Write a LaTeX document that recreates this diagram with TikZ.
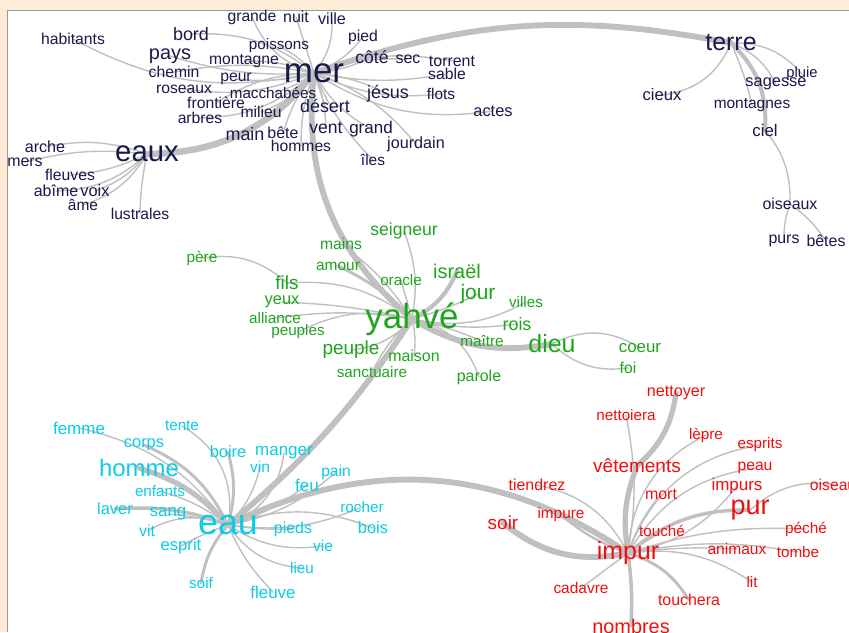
\documentclass[tikz,border=0pt]{standalone}
\usepackage{fontspec}
\setmainfont{Liberation Sans}
\usepackage{tikz}
\usetikzlibrary{backgrounds}
\definecolor{navy}{RGB}{25,25,75}
\definecolor{leaf}{RGB}{30,165,30}
\definecolor{aqua}{RGB}{10,205,230}
\definecolor{scarlet}{RGB}{240,15,15}
\definecolor{link}{RGB}{192,192,192}
\definecolor{paper}{RGB}{253,236,216}
\newcommand{\thinw}{1.2pt}

\tikzset{
  wd/.style={inner sep=0pt, font=\fontsize{#1}{#1}\selectfont},
  ln/.style={draw=link, line width=#1, line cap=round},
}

\begin{document}
\begin{tikzpicture}[x=0.03cm,y=0.03cm]
\useasboundingbox (0,0) rectangle (849,-632);
\begin{pgfonlayer}{background}
\fill[paper] (0,0) rectangle (849,-632);
\fill[white] (7,-10) rectangle (849,-632);
\draw[gray!80, line width=0.8pt] (7,-632) -- (7,-10) -- (849,-10);
\end{pgfonlayer}
\clip (0,0) rectangle (849,-632);
\foreach \n/\x/\y/\s/\t in {habitants/73/39/13.4/habitants, bord/191/34/15.3/bord, pays/170/56/17/pays,
  chemin/174/72/13.4/chemin, roseaux/184/89/13.4/roseaux, montagne/244/61/13.4/montagne,
  peur/236/79/13.4/peur, macchabees/273/93/13/macchabées, frontiere/216/103/13.4/frontière,
  milieu/261/112/13.4/milieu, arbres/200/118/13.4/arbres, main/245/134/15.3/main,
  bete/283/133/13.6/bête, hommes/301/146/13.4/hommes, grande/252/17/13.4/grande,
  nuit/296/17/13.6/nuit, ville/332/19/13.8/ville, poissons/279/46/13/poissons,
  pied/363/37/13.4/pied, cote/372/57/15/côté, sec/408/59/13.6/sec,
  torrent/452/61/13.6/torrent, sable/447/74/13.4/sable, jesus/388/94/15.3/jésus,
  flots/441/94/13.2/flots, desert/325/106/15.3/désert, actes/493/111/14/actes,
  vent/326/128/15/vent, grand/371/129/14.5/grand, jourdain/416/144/13.8/jourdain,
  iles/373/160/13.2/îles, mer/314/73/29.8/mer, eaux/147/154/25/eaux,
  arche/45/147/13.8/arche, mers/25/162/13.6/mers, fleuves/70/175/13.4/fleuves,
  abime/56/191/13.6/abîme, voix/95/191/14/voix, ame/83/205/13.2/âme,
  lustrales/140/214/13.4/lustrales, terre/731/43/21.3/terre, pluie/802/74/12.6/pluie,
  sagesse/776/84/14/sagesse, cieux/662/95/14.2/cieux, montagnes/752/105/13.2/montagnes,
  ciel/765/130/14.4/ciel, oiseaux/790/204/13.6/oiseaux, purs/784/241/13.6/purs,
  betes/826/241/13.6/bêtes}{
\node[wd=\s, text=navy] (\n) at (\x,-\y) {\t};
}
\foreach \n/\x/\y/\s/\t in {seigneur/404/231/15/seigneur, mains/341/244/13.4/mains,
  pere/202/258/13.2/père, amour/338/266/13.2/amour, oracle/401/280/13/oracle,
  israel/457/271/17/israël, fils/287/283/16.2/fils, jour/478/294/17.9/jour,
  villes/526/302/13/villes, yeux/282/302/14/yeux, alliance/275/318/13/alliance,
  yahve/412/319/29.8/yahvé, rois/517/324/15.3/rois, peuples/298/332/13/peuples,
  maitre/482/341/13/maître, dieu/552/344/21.3/dieu, coeur/640/348/14.4/coeur,
  peuple/351/350/16.2/peuple, maison/414/356/13.6/maison, foi/628/368/13.4/foi,
  sanctuaire/372/372/13/sanctuaire, parole/479/377/13.6/parole}{
\node[wd=\s, text=leaf] (\n) at (\x,-\y) {\t};
}
\foreach \n/\x/\y/\s/\t in {femme/79/428/14.5/femme, tente/182/426/13/tente,
  corps/144/445/14/corps, boire/228/452/14/boire, manger/284/453/14.5/manger,
  vin/260/467/13.3/vin, homme/139/468/20.4/homme, pain/336/472/13.3/pain,
  feu/307/485/14.5/feu, enfants/160/491/13/enfants, laver/115/509/14/laver,
  sang/168/514/14.5/sang, rocher/362/507/13/rocher, eau/228/525/30.6/eau,
  pieds/293/529/13.6/pieds, bois/373/528/14/bois, vit/147/531/13.6/vit,
  esprit/181/546/14.2/esprit, vie/323/546/13.3/vie, lieu/302/568/13/lieu,
  soif/201/583/13.1/soif, fleuve/273/592/14.5/fleuve}{
\node[wd=\s, text=aqua] (\n) at (\x,-\y) {\t};
}
\foreach \n/\x/\y/\s/\t in {nettoyer/676/393/13.8/nettoyer, nettoiera/626/415/13/nettoiera,
  lepre/706/435/13/lèpre, esprits/760/445/13/esprits, vetements/637/466/16.2/vêtements,
  peau/755/468/13.4/peau, tiendrez/537/485/13.6/tiendrez, mort/661/494/13.6/mort,
  impurs/737/486/14.5/impurs, oiseauxr/837/485/13.4/oiseaux, pur/750/510/23/pur,
  soir/503/523/16.2/soir, impure/561/515/13.1/impure, touche/662/531/13/touché,
  peche/806/529/13.1/péché, impur/628/553/21.3/impur, animaux/737/549/13.3/animaux,
  tombe/798/552/13/tombe, lit/752/582/13/lit, cadavre/581/588/13.2/cadavre,
  touchera/689/600/13.6/touchera, nombres/631/626/17/nombres}{
\node[wd=\s, text=scarlet] (\n) at (\x,-\y) {\t};
}
\begin{pgfonlayer}{background}
\foreach \a/\b/\w/\bd in {habitants/mer/\thinw/-20, bord/mer/\thinw/20, pays/mer/\thinw/-10,
  chemin/mer/\thinw/10, roseaux/mer/\thinw/-15, montagne/mer/\thinw/10, peur/mer/\thinw/-10,
  macchabees/mer/\thinw/-10, frontiere/mer/\thinw/15, milieu/mer/\thinw/-15,
  arbres/mer/\thinw/-20, main/mer/\thinw/-15, bete/mer/\thinw/10, hommes/mer/\thinw/10,
  grande/mer/\thinw/-25, nuit/mer/\thinw/0, ville/mer/\thinw/20, poissons/mer/\thinw/10,
  pied/mer/\thinw/15, cote/mer/\thinw/10, sec/mer/\thinw/-10, torrent/mer/\thinw/-15,
  sable/mer/\thinw/10, jesus/mer/\thinw/-10, flots/mer/\thinw/15, desert/mer/\thinw/0,
  actes/mer/\thinw/20, vent/mer/\thinw/-10, grand/mer/\thinw/15, jourdain/mer/\thinw/-15,
  iles/mer/\thinw/10, arche/eaux/\thinw/15, mers/eaux/\thinw/10, fleuves/eaux/\thinw/-10,
  abime/eaux/\thinw/-20, voix/eaux/\thinw/-15, ame/eaux/\thinw/-20, lustrales/eaux/\thinw/5,
  eaux/mer/5.5pt/-25, mer/terre/5pt/15, mer/yahve/5pt/-28,
  terre/cieux/\thinw/30, terre/montagnes/\thinw/5, terre/ciel/3.5pt/25,
  terre/sagesse/\thinw/20, terre/pluie/\thinw/25, ciel/oiseaux/\thinw/20,
  oiseaux/betes/\thinw/10, oiseaux/purs/\thinw/-10}{
\draw[ln=\w] (\a.center) to[bend left=\bd] (\b.center);
}
\foreach \a/\b/\w/\bd in {seigneur/yahve/\thinw/15, mains/yahve/\thinw/10, amour/yahve/2.5pt/10,
  oracle/yahve/\thinw/0, pere/fils/\thinw/25, fils/yahve/\thinw/20, yeux/yahve/\thinw/5,
  alliance/yahve/\thinw/8, peuples/yahve/\thinw/20, peuple/yahve/\thinw/-20,
  maison/yahve/\thinw/-10, sanctuaire/yahve/\thinw/10, israel/yahve/3.5pt/20,
  jour/yahve/\thinw/5, villes/yahve/\thinw/20, rois/yahve/\thinw/10, maitre/yahve/\thinw/-5,
  parole/yahve/\thinw/-30, yahve/dieu/5pt/-20, dieu/coeur/\thinw/30, dieu/foi/\thinw/-25,
  yahve/eau/5pt/8}{
\draw[ln=\w] (\a.center) to[bend left=\bd] (\b.center);
}
\foreach \a/\b/\w/\bd in {femme/eau/\thinw/20, corps/eau/2.5pt/20, tente/eau/\thinw/35,
  boire/eau/2.5pt/15, homme/eau/4.5pt/15, laver/eau/3pt/12, enfants/eau/\thinw/10,
  sang/eau/\thinw/5, vit/eau/\thinw/25, esprit/eau/\thinw/5, soif/eau/2.5pt/15,
  fleuve/eau/\thinw/10, lieu/eau/\thinw/25, vie/eau/\thinw/20, pieds/eau/\thinw/5,
  bois/eau/\thinw/-20, rocher/eau/\thinw/15, pain/eau/\thinw/15, feu/eau/\thinw/10,
  manger/eau/\thinw/30, vin/eau/\thinw/15, eau/impur/5pt/30}{
\draw[ln=\w] (\a.center) to[bend left=\bd] (\b.center);
}
\foreach \a/\b/\w/\bd in {soir/impur/5pt/-25, impur/vetements/4.5pt/15,
  vetements/nettoyer/4.5pt/-20, nettoiera/impur/\thinw/10, impur/pur/3pt/20,
  pur/oiseauxr/\thinw/25, impur/nombres/3pt/5, impur/touchera/2.5pt/20,
  impur/cadavre/\thinw/0, impur/lit/\thinw/20, impur/animaux/\thinw/5,
  impur/tombe/\thinw/10, impur/peche/\thinw/10, impur/impurs/\thinw/-20,
  impur/peau/\thinw/25, impur/esprits/\thinw/30, impur/lepre/\thinw/30,
  impur/mort/\thinw/10, impur/touche/\thinw/0, tiendrez/impur/\thinw/25,
  impure/impur/2pt/-10}{
\draw[ln=\w] (\a.center) to[bend left=\bd] (\b.center);
}
\end{pgfonlayer}
\end{tikzpicture}
\end{document}
